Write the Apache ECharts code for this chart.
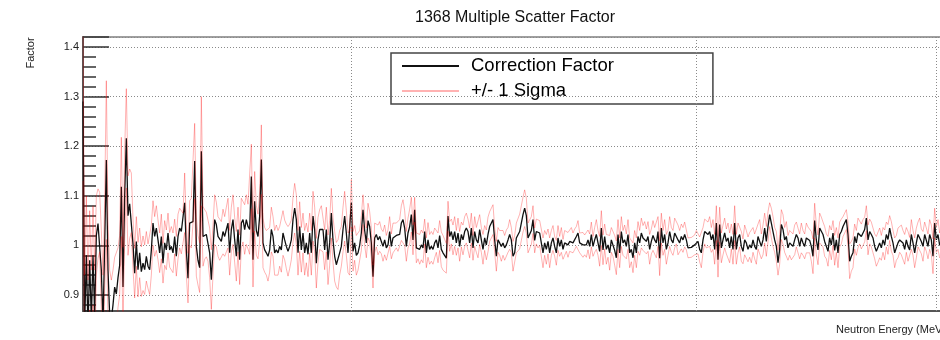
<!DOCTYPE html>
<html>
<head>
<meta charset="utf-8">
<title>1368 Multiple Scatter Factor</title>
<script src="https://cdn.jsdelivr.net/npm/echarts@6/dist/echarts.min.js"></script>
<style>
  html, body { margin: 0; padding: 0; background: #fff; }
  #chart { width: 940px; height: 340px; }
</style>
</head>
<body>
<div id="chart"></div>
<script>
// Multiple-scatter correction factor per energy bin (bin index along the x axis)
const factor = [
  1.29, 0.84, 0.98, 0.83, 0.97, 0.85, 0.98, 0.86, 1.02, 1.044,
  1.047, 0.95, 0.84, 1.0, 1.172, 0.95, 0.86, 0.85, 0.88, 0.916,
  0.902, 0.935, 0.96, 1.118, 0.916, 1.1, 1.216, 1.06, 1.084, 1.086,
  1.003, 0.944, 1.008, 0.951, 0.985, 0.947, 0.964, 0.951, 0.978, 0.958,
  0.951, 0.99, 1.045, 1.018, 1.035, 1.011, 0.985, 1.018, 0.964, 1.005,
  0.991, 1.025, 0.991, 0.998, 0.985, 1.018, 0.978, 1.018, 1.035, 1.028,
  1.025, 1.086, 0.991, 0.934, 1.045, 1.045, 1.048, 1.17, 0.998, 0.97,
  0.955, 1.19, 1.018, 1.022, 1.022, 1.018, 0.985, 0.931, 0.99, 1.052,
  1.042, 1.018, 1.015, 1.008, 1.028, 1.018, 1.032, 1.045, 0.985, 1.032,
  1.052, 1.011, 0.978, 1.032, 0.971, 1.045, 1.052, 1.032, 1.052, 1.038,
  1.032, 1.139, 0.971, 1.089, 1.03, 1.018, 1.059, 1.173, 1.005, 0.991,
  0.985, 0.978, 0.991, 1.032, 1.018, 0.985, 0.991, 0.985, 0.998, 0.991,
  1.025, 1.011, 0.998, 0.988, 0.998, 1.011, 1.052, 1.075, 1.052, 0.985,
  1.038, 0.991, 1.025, 0.985, 1.005, 0.982, 1.025, 0.985, 1.059, 1.032,
  0.964, 1.011, 1.032, 1.035, 1.032, 0.991, 1.032, 0.971, 1.005, 1.065,
  1.011, 0.978, 0.961, 0.961, 0.985, 0.998, 1.032, 1.059, 1.025, 0.985,
  0.985, 1.086, 0.988, 1.005, 0.98, 0.985, 1.0, 1.025, 1.072, 1.03,
  1.005, 1.05, 1.038, 1.005, 0.937, 1.015, 1.022, 1.011, 1.018, 1.008,
  0.998, 1.011, 0.995, 1.001, 1.028, 0.998, 1.015, 1.018, 1.02, 1.018,
  1.022, 1.045, 1.052, 1.035, 0.998, 1.025, 1.038, 1.062, 1.011, 1.072,
  0.995, 0.998, 0.992, 1.001, 0.995, 1.028, 0.985, 1.011, 0.992, 0.998,
  0.992, 1.005, 1.011, 0.995, 1.02, 0.992, 0.985, 0.982, 0.974, 1.059,
  1.018, 1.028, 1.011, 1.028, 1.005, 1.025, 0.998, 1.022, 1.011, 1.028,
  1.035, 1.028, 1.005, 1.035, 0.995, 1.028, 1.011, 1.005, 1.032, 1.011,
  0.992, 1.015, 1.001, 1.022, 1.038, 1.045, 1.052, 1.011, 0.978, 1.011,
  1.005, 0.998, 1.005, 0.995, 1.001, 1.011, 1.022, 1.011, 0.978, 0.985,
  1.015, 1.018, 1.028, 1.045, 1.062, 1.075, 1.06, 1.015, 1.015, 1.03,
  1.052, 1.01, 1.028, 1.025, 1.025, 1.022, 0.985, 1.005, 0.992, 1.008,
  0.985, 1.005, 1.015, 0.998, 0.985, 1.015, 0.998, 1.011, 0.992, 1.005,
  1.008, 1.001, 1.008, 1.011, 1.005, 1.008, 1.018, 1.025, 1.005, 1.001,
  1.001, 1.001, 1.001, 1.011, 0.998, 1.022, 0.998, 1.011, 1.022, 1.005,
  0.988, 1.035, 0.991, 1.018, 0.992, 1.001, 0.985, 1.011, 1.008, 0.99,
  0.975, 1.022, 0.985, 1.028, 1.005, 1.011, 0.998, 1.022, 0.985, 0.992,
  0.975, 1.005, 0.985, 1.018, 1.005, 1.025, 1.015, 1.018, 1.008, 1.018,
  0.992, 1.008, 1.02, 1.011, 1.005, 1.028, 0.974, 1.035, 1.005, 1.022,
  0.992, 1.005, 1.028, 1.011, 1.005, 1.025, 1.028, 1.011, 1.005, 1.018,
  1.011, 1.022, 1.011, 0.995, 0.995, 0.996, 0.995, 1.001, 1.005, 1.008,
  0.992, 0.985, 1.011, 1.028, 1.025, 1.022, 1.028, 1.011, 1.022, 0.992,
  1.045, 0.971, 1.042, 0.995, 1.011, 1.025, 1.008, 1.015, 0.995, 1.018,
  0.992, 1.045, 0.992, 1.015, 1.022, 0.998, 0.988, 1.011, 1.005, 0.992,
  1.001, 0.995, 1.011, 0.998, 0.992, 1.018, 1.022, 0.998, 1.011, 1.035,
  1.008, 1.038, 1.062, 1.045, 1.028, 1.011, 0.998, 0.965, 0.992, 1.042,
  1.032, 1.011, 1.018, 0.995, 1.005, 1.001, 0.998, 1.011, 1.022, 1.015,
  0.998, 1.015, 1.005, 0.998, 1.015, 1.012, 1.01, 0.998, 0.978, 1.05,
  1.011, 0.991, 1.035, 1.032, 1.022, 1.008, 0.998, 0.988, 1.015, 1.001,
  1.025, 0.99, 1.011, 0.985, 1.022, 1.028, 1.038, 1.045, 1.052, 1.022,
  0.968, 0.978, 0.985, 1.018, 1.005, 1.025, 1.028, 1.018, 1.022, 1.032,
  1.055, 1.011, 1.028, 1.022, 1.015, 0.998, 0.988, 0.991, 1.005, 0.995,
  1.011, 1.001, 1.022, 1.012, 1.035, 1.018, 1.005, 0.985, 0.995, 1.005,
  1.011, 1.011, 1.005, 0.992, 1.011, 0.998, 0.991, 1.022, 1.005, 0.985,
  1.005, 1.022, 1.025, 1.008, 0.998, 1.022, 1.018, 0.998, 1.022, 1.011,
  0.978, 1.045, 1.011, 1.022, 1.0, 1.01, 0.99, 1.02, 1.0, 0.985,
  1.015, 1.005, 0.995, 1.02, 1.01, 1.0
];

// One-sigma uncertainty of each bin
const sigma = [
  0.16, 0.1, 0.12, 0.1, 0.1, 0.1, 0.1, 0.09, 0.08, 0.07,
  0.06, 0.08, 0.1, 0.09, 0.16, 0.1, 0.09, 0.08, 0.07, 0.06,
  0.07, 0.06, 0.06, 0.1, 0.08, 0.09, 0.1, 0.08, 0.07, 0.06,
  0.05, 0.05, 0.05, 0.055, 0.05, 0.05, 0.055, 0.05, 0.05, 0.045,
  0.05, 0.05, 0.045, 0.04, 0.045, 0.04, 0.04, 0.045, 0.04, 0.045,
  0.04, 0.04, 0.035, 0.04, 0.04, 0.035, 0.04, 0.045, 0.04, 0.045,
  0.04, 0.06, 0.05, 0.05, 0.045, 0.05, 0.05, 0.076, 0.06, 0.05,
  0.05, 0.11, 0.06, 0.05, 0.045, 0.05, 0.05, 0.06, 0.05, 0.05,
  0.045, 0.04, 0.045, 0.04, 0.045, 0.04, 0.045, 0.05, 0.045, 0.045,
  0.05, 0.045, 0.05, 0.045, 0.05, 0.05, 0.045, 0.05, 0.05, 0.045,
  0.05, 0.065, 0.055, 0.06, 0.05, 0.045, 0.05, 0.07, 0.05, 0.045,
  0.045, 0.05, 0.045, 0.045, 0.04, 0.045, 0.05, 0.045, 0.04, 0.045,
  0.045, 0.04, 0.045, 0.05, 0.045, 0.04, 0.045, 0.05, 0.05, 0.045,
  0.05, 0.045, 0.04, 0.045, 0.04, 0.045, 0.04, 0.045, 0.05, 0.045,
  0.05, 0.045, 0.04, 0.045, 0.045, 0.04, 0.045, 0.05, 0.045, 0.05,
  0.045, 0.05, 0.045, 0.05, 0.045, 0.04, 0.045, 0.05, 0.045, 0.04,
  0.045, 0.047, 0.04, 0.035, 0.04, 0.035, 0.03, 0.035, 0.03, 0.03,
  0.03, 0.035, 0.03, 0.03, 0.023, 0.03, 0.025, 0.03, 0.03, 0.025,
  0.03, 0.03, 0.025, 0.03, 0.03, 0.025, 0.03, 0.03, 0.025, 0.03,
  0.03, 0.035, 0.04, 0.035, 0.03, 0.03, 0.035, 0.035, 0.03, 0.025,
  0.03, 0.025, 0.03, 0.03, 0.03, 0.025, 0.03, 0.035, 0.03, 0.03,
  0.03, 0.03, 0.025, 0.03, 0.03, 0.035, 0.035, 0.03, 0.03, 0.03,
  0.03, 0.025, 0.03, 0.03, 0.025, 0.03, 0.03, 0.025, 0.03, 0.03,
  0.03, 0.025, 0.03, 0.03, 0.025, 0.03, 0.025, 0.03, 0.03, 0.025,
  0.03, 0.025, 0.03, 0.035, 0.03, 0.03, 0.03, 0.025, 0.03, 0.025,
  0.025, 0.03, 0.025, 0.025, 0.03, 0.025, 0.03, 0.025, 0.03, 0.035,
  0.03, 0.03, 0.035, 0.035, 0.035, 0.037, 0.035, 0.03, 0.03, 0.028,
  0.028, 0.025, 0.025, 0.03, 0.025, 0.025, 0.03, 0.025, 0.03, 0.025,
  0.03, 0.025, 0.025, 0.02, 0.025, 0.025, 0.02, 0.025, 0.02, 0.025,
  0.02, 0.025, 0.02, 0.025, 0.02, 0.025, 0.02, 0.025, 0.02, 0.02,
  0.025, 0.02, 0.025, 0.02, 0.025, 0.025, 0.02, 0.025, 0.03, 0.025,
  0.03, 0.035, 0.03, 0.025, 0.03, 0.025, 0.035, 0.025, 0.03, 0.03,
  0.034, 0.03, 0.03, 0.03, 0.025, 0.03, 0.025, 0.03, 0.03, 0.025,
  0.03, 0.025, 0.03, 0.03, 0.025, 0.03, 0.025, 0.03, 0.025, 0.03,
  0.03, 0.025, 0.03, 0.025, 0.03, 0.03, 0.035, 0.03, 0.025, 0.03,
  0.03, 0.025, 0.03, 0.025, 0.025, 0.03, 0.025, 0.03, 0.025, 0.025,
  0.025, 0.025, 0.02, 0.02, 0.02, 0.02, 0.02, 0.02, 0.025, 0.025,
  0.025, 0.03, 0.025, 0.025, 0.03, 0.025, 0.03, 0.025, 0.03, 0.03,
  0.035, 0.035, 0.035, 0.03, 0.03, 0.03, 0.025, 0.03, 0.03, 0.025,
  0.03, 0.035, 0.03, 0.03, 0.025, 0.03, 0.025, 0.03, 0.025, 0.025,
  0.025, 0.03, 0.025, 0.025, 0.03, 0.025, 0.03, 0.025, 0.03, 0.03,
  0.03, 0.03, 0.024, 0.03, 0.03, 0.025, 0.03, 0.025, 0.03, 0.03,
  0.03, 0.025, 0.03, 0.025, 0.025, 0.03, 0.025, 0.03, 0.025, 0.03,
  0.025, 0.03, 0.025, 0.025, 0.03, 0.025, 0.025, 0.03, 0.035, 0.035,
  0.03, 0.03, 0.03, 0.025, 0.025, 0.03, 0.025, 0.03, 0.025, 0.03,
  0.025, 0.03, 0.025, 0.03, 0.025, 0.025, 0.02, 0.02, 0.02, 0.025,
  0.035, 0.03, 0.03, 0.025, 0.025, 0.03, 0.025, 0.025, 0.03, 0.025,
  0.025, 0.03, 0.025, 0.025, 0.03, 0.025, 0.03, 0.025, 0.03, 0.025,
  0.025, 0.03, 0.025, 0.03, 0.025, 0.03, 0.025, 0.03, 0.025, 0.03,
  0.025, 0.03, 0.025, 0.03, 0.025, 0.03, 0.025, 0.03, 0.025, 0.03,
  0.03, 0.025, 0.03, 0.025, 0.03, 0.025, 0.03, 0.025, 0.03, 0.03,
  0.035, 0.03, 0.025, 0.03, 0.025, 0.03, 0.025, 0.03, 0.025, 0.03,
  0.025, 0.03, 0.025, 0.03, 0.025, 0.03
];

// Bins at which the energy axis has its major ticks / grid lines
const energyTickBins = [161, 368, 512];

const seriesNames = ['Correction Factor', '+/- 1 Sigma'];
const titleText = '1368 Multiple Scatter Factor';
const xTitle = 'Neutron Energy (MeV)';
const yTitle = 'Factor';

const FONT = '"Liberation Sans", Arial, Helvetica, sans-serif';

const centre = factor.map((v, i) => [i, v]);
const upper = factor.map((v, i) => [i, +(v + sigma[i]).toFixed(4)]);
const lower = factor.map((v, i) => [i, +(v - sigma[i]).toFixed(4)]);

const chart = echarts.init(document.getElementById('chart'), null, { renderer: 'canvas' });

const gridDots = { color: '#8a8a8a', width: 1, type: [1, 2] };

chart.setOption({
  animation: false,
  backgroundColor: '#fff',
  title: {
    text: titleText,
    left: 410,
    top: 5,
    textStyle: { fontFamily: FONT, fontSize: 16, fontWeight: 'normal', color: '#111' }
  },
  legend: {
    data: seriesNames,
    orient: 'vertical',
    left: 391,
    top: 53,
    padding: [2, 99, 2, 11],
    itemGap: 3,
    icon: 'rect',
    itemWidth: 57,
    itemHeight: 2,
    borderColor: '#444',
    borderWidth: 1.5,
    borderRadius: 0,
    textStyle: { fontFamily: FONT, fontSize: 18.5, color: '#000', lineHeight: 22, padding: [0, 0, 0, 7] }
  },
  grid: {
    left: 83, right: -18, top: 37, bottom: 29,
    show: true,
    borderColor: '#808080',
    borderWidth: 1.5,
    outerBoundsMode: 'none'
  },
  xAxis: {
    type: 'value',
    min: 0,
    max: 525,
    axisLine: { show: true, lineStyle: { color: '#555', width: 2 } },
    axisTick: { show: false },
    axisLabel: { show: false },
    splitLine: { show: false }
  },
  yAxis: {
    type: 'value',
    min: 0.8677,
    max: 1.4202,
    splitNumber: 5,
    axisLine: { show: true, lineStyle: { color: '#555', width: 2 } },
    axisTick: { show: true, inside: true, length: 26, lineStyle: { color: '#333', width: 1.5 } },
    minorTick: { show: true, splitNumber: 5, length: 13, lineStyle: { color: '#333', width: 1.5 } },
    axisLabel: {
      showMinLabel: false, showMaxLabel: false,
      margin: 4, fontFamily: FONT, fontSize: 11, color: '#222',
      formatter: v => (Math.abs(v - 1) < 1e-9 ? '1' : String(+v.toFixed(1)))
    },
    splitLine: { show: true, lineStyle: gridDots }
  },
  graphic: [
    {
      type: 'text', x: 31, y: 53, rotation: Math.PI / 2,
      style: { text: yTitle, font: '11px ' + FONT, fill: '#222', align: 'center', verticalAlign: 'middle' }
    },
    {
      type: 'text', x: 836, y: 329.5,
      style: { text: xTitle, font: '11px ' + FONT, fill: '#222', align: 'left', verticalAlign: 'middle' }
    }
  ],
  series: [
    {
      // vertical grid lines at the energy-axis ticks
      type: 'line', data: [], silent: true, z: 1,
      markLine: {
        silent: true, symbol: 'none', label: { show: false },
        lineStyle: gridDots,
        data: energyTickBins.map(b => ({ xAxis: b }))
      }
    },
    {
      name: seriesNames[0], type: 'line', data: centre, z: 2,
      symbol: 'none', clip: true,
      lineStyle: { color: '#111', width: 1.3 }, itemStyle: { color: '#111' }
    },
    {
      name: seriesNames[1], type: 'line', data: upper, z: 3,
      symbol: 'none', clip: true,
      lineStyle: { color: 'rgba(255,0,0,0.3)', width: 1 }, itemStyle: { color: 'rgba(255,0,0,0.3)' }
    },
    {
      name: seriesNames[1], type: 'line', data: lower, z: 3,
      symbol: 'none', clip: true,
      lineStyle: { color: 'rgba(255,0,0,0.3)', width: 1 }, itemStyle: { color: 'rgba(255,0,0,0.3)' }
    }
  ]
});
</script>
</body>
</html>
